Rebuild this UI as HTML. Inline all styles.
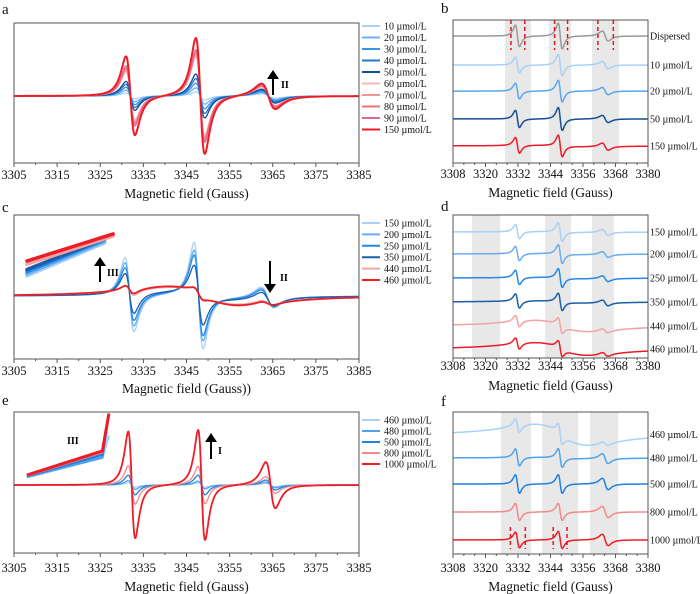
<!DOCTYPE html>
<html><head><meta charset="utf-8">
<style>
html,body{margin:0;padding:0;background:#fff;}
svg{display:block;font-family:"Liberation Serif",serif;}
</style></head>
<body>
<svg id="fig" width="700" height="594" viewBox="0 0 700 594"></svg>
<script>
// ---------- DATA ----------
const aLabels=['10 µmol/L','20 µmol/L','30 µmol/L','40 µmol/L','50 µmol/L','60 µmol/L','70 µmol/L','80 µmol/L','90 µmol/L','150 µmol/L'];
const aColors=['#a9d1f7','#6cb1f0','#3a95e8','#1f78d1','#0e4f98','#f7b8ba','#f49295','#ef7275','#e06a8e','#ee1c25'];
const aAmp1=[0.05,0.1,0.15,0.2,0.25,0.42,0.45,0.48,0.52,0.68];
const aAmp2=[0.07,0.14,0.22,0.3,0.38,0.68,0.72,0.76,0.8,1.0];
const aAmp3=[0.04,0.06,0.08,0.1,0.12,0.16,0.17,0.18,0.19,0.22];
const aCenters=[3332,3348.2,3364];
const cLabels=['150 µmol/L','200 µmol/L','250 µmol/L','350 µmol/L','440 µmol/L','460 µmol/L'];
const cColors=['#a9d1f7','#67aef0','#2388e8','#1b5fa8','#f4a3a5','#ee1c25'];
const cAmp1=[0.7,0.6,0.5,0.38,0.1,0.08];
const cAmp2=[1.0,0.85,0.75,0.55,0.1,0.08];
const cAmp3=[0.2,0.18,0.16,0.13,0.05,0.04];
const cBroad=[0.03,0.04,0.05,0.07,0.16,0.18];
const cInsetStart=[0.38,0.42,0.46,0.5,0.6,0.66];
const cInsetEnd=[1.0,1.03,1.06,1.08,1.13,1.17];
const cInsetEndG=[3326,3326,3326,3326,3328,3328];
const cCenters=[3331.8,3347.8,3363.8];
const eLabels=['460 µmol/L','480 µmol/L','500 µmol/L','800 µmol/L','1000 µmol/L'];
const eColors=['#a9d1f7','#4ea3ee','#1f80e0','#f28a8d','#ee1c25'];
const eAmp1=[0.04,0.08,0.18,0.35,0.97];
const eAmp2=[0.04,0.07,0.18,0.34,1.0];
const eAmp3=[0.03,0.05,0.09,0.15,0.42];
const eInsetStart=[0.14,0.15,0.16,0.17,0.18];
const eInsetMid=[0.5,0.5,0.55,0.6,0.62];
const eInsetTop=[0.9,1.3,1.3,1.3,1.3];
const eCenters=[3332.3,3348.5,3364.5];
const bLabels=['Dispersed','10 µmol/L','20 µmol/L','50 µmol/L','150 µmol/L'];
const bColors=['#9a9a9a','#a9d1f7','#5aa6ee','#154f96','#ee1c25'];
const bOffsets=[8.88,6.85,5.03,3.08,1.19];
const bAmp1=[0.75,0.55,0.55,0.6,0.55];
const bAmp2=[0.9,0.75,0.75,0.8,0.75];
const bAmp3=[0.35,0.25,0.25,0.25,0.25];
const bBroad=[0,0,0,0,0.05];
const bBands=[[3327.2,3336.8],[3343.4,3351.6],[3359.3,3369.3]];
const bDashes=[3329.4,3334.5,3345.5,3350.3,3361.5,3367.2];
const dLabels=['150 µmol/L','200 µmol/L','250 µmol/L','350 µmol/L','440 µmol/L','460 µmol/L'];
const dColors=['#a9d1f7','#67aef0','#2388e8','#1b5fa8','#f4a3a5','#ee1c25'];
const dOffsets=[8.81,7.27,5.59,3.92,2.24,0.63];
const dAmp1=[0.5,0.5,0.5,0.5,0.4,0.4];
const dAmp2=[0.65,0.65,0.65,0.6,0.5,0.5];
const dAmp3=[0.2,0.2,0.2,0.2,0.15,0.15];
const dBroad=[0.03,0.04,0.05,0.08,0.4,0.45];
const dBands=[[3315,3325.4],[3342,3351.6],[3359.3,3367.4]];
const fLabels=['460 µmol/L','480 µmol/L','500 µmol/L','800 µmol/L','1000 µmol/L'];
const fColors=['#a9d1f7','#4ea3ee','#1f80e0','#f28a8d','#ee1c25'];
const fOffsets=[8.4,6.76,4.93,2.96,0.99];
const fAmp1=[0.5,0.6,0.65,0.6,0.55];
const fAmp2=[0.65,0.65,0.65,0.6,0.6];
const fAmp3=[0.15,0.35,0.4,0.4,0.4];
const fBroad=[0.75,0.05,0,0,0];
const fBands=[[3325.7,3336.8],[3340.9,3354.2],[3358.6,3369]];
const fDashes=[3329.2,3334.7,3345.0,3350.1];
const smallCenters=[3331.8,3347.6,3364.2];
const bigTicks=[3305,3315,3325,3335,3345,3355,3365,3375,3385];
const smallTicks=[3308,3320,3332,3344,3356,3368,3380];

// ---------- HELPERS ----------
const NS='http://www.w3.org/2000/svg';
const fig=document.getElementById('fig');
function mk(tag,attrs,parent){const e=document.createElementNS(NS,tag);for(const k in attrs)e.setAttribute(k,attrs[k]);(parent||fig).appendChild(e);return e;}
function ld(x,c,g){const u=(x-c)/g;return (-2*u/Math.pow(1+u*u,2))/0.6495;}
function scale(d0,d1,r0,r1){return v=>r0+(v-d0)/(d1-d0)*(r1-r0);}

function axes(P,ticks,minorStep,title,tickY,titleY){
  const g=mk('g',{});
  
  
  for(let v=ticks[0];v<=ticks[ticks.length-1]+0.01;v+=minorStep){
    const x=P.sx(v);const major=ticks.some(t=>Math.abs(t-v)<0.01);
    mk('line',{x1:x,x2:x,y1:P.y1,y2:P.y1+(major?4:2),stroke:'#555','stroke-width':1},g);
  }
  ticks.forEach(t=>{
    const tx=mk('text',{x:P.sx(t),y:tickY,'text-anchor':'middle','font-size':12.5,fill:'#111'},g);
    tx.textContent=t;
    
    
  });
  const tt=mk('text',{x:(P.x0+P.x1)/2,y:titleY,'text-anchor':'middle','font-size':13.5,fill:'#111'});
  tt.textContent=title;
  
  
  const box=mk('rect',{x:P.x0,y:P.y0,width:P.x1-P.x0,height:P.y1-P.y0,fill:'none',stroke:'#555','stroke-width':1});
  
  
}
function letter(t,x,y){const e=mk('text',{x:x,y:y,'font-size':15,fill:'#111'});e.textContent=t;
  
  }
function trace(P,fn,color,w,name){
  let d='';
  for(let x=P.g0;x<=P.g1+0.001;x+=0.1){d+=(d?'L':'M')+P.sx(x).toFixed(1)+','+P.sy(fn(x)).toFixed(1);}
  const p=mk('path',{d:d,fill:'none',stroke:color,'stroke-width':w,'stroke-linejoin':'round'});
  
  
}
function legend(labels,colors,x,y0,dy){
  labels.forEach((l,i)=>{
    const y=y0+i*dy;
    const ln=mk('line',{x1:x,x2:x+18,y1:y,y2:y,stroke:colors[i],'stroke-width':2});
    
    
    const t=mk('text',{x:x+22,y:y+3.5,'font-size':10,fill:'#111'});
    t.textContent=l;
    
    
  });
}
function arrow(x,yFrom,yTo,label,lx,ly,name){
  const dir=yTo<yFrom?1:-1;
  const l=mk('line',{x1:x,x2:x,y1:yFrom,y2:yTo+dir*8,stroke:'#000','stroke-width':2});
  
  
  const h=mk('polygon',{points:`${x-6},${yTo+dir*9} ${x+6},${yTo+dir*9} ${x},${yTo}`,fill:'#000'});
  
  
  if(label){const t=mk('text',{x:lx,y:ly,'font-size':10,'font-weight':'bold',fill:'#000'});t.textContent=label;
    
    }
}

function bigPanel(name,y0,y1,vmin,vmax){
  const P={name:name,x0:14,x1:359,y0:y0,y1:y1,g0:3305,g1:3385};
  P.sx=scale(3305,3385,14,359);P.sy=scale(vmin,vmax,y1,y0);return P;
}
// a
const PA=bigPanel('panel-a',23,163,-1.155,1.259);
aLabels.forEach((l,i)=>trace(PA,x=>aAmp1[i]*ld(x,aCenters[0],1.8)+aAmp2[i]*ld(x,aCenters[1],1.8)+aAmp3[i]*ld(x,aCenters[2],2.8),aColors[i],i==9?2:1.3,'series-'+l.replace(/[^0-9]/g,'')+'-umol'));
axes(PA,bigTicks,5,'Magnetic field (Gauss)',179,198);
legend(aLabels,aColors,362,26,11.5);
arrow(273,95,70,'II',281,88,'arrow-increase-II');
letter('a',2,14);
// c
const PC=bigPanel('panel-c',215,359,-1.189,1.528);
cLabels.forEach((l,i)=>{
  trace(PC,x=>cAmp1[i]*ld(x,cCenters[0],1.8)+cAmp2[i]*ld(x,cCenters[1],1.8)+cAmp3[i]*ld(x,cCenters[2],2.6)+cBroad[i]*ld(x,3349,15),cColors[i],i==5?1.8:1.3,'series-'+l.replace(/[^0-9]/g,'')+'-umol');
  const p=mk('line',{x1:PC.sx(3308),y1:PC.sy(cInsetStart[i]),x2:PC.sx(cInsetEndG[i]),y2:PC.sy(cInsetEnd[i]),stroke:cColors[i],'stroke-width':3.5,'stroke-linecap':'round'});
  
  
});
axes(PC,bigTicks,5,'Magnetic field (Gauss))',375,393);
legend(cLabels,cColors,362,223,11.4);
arrow(100,282,257,'III',107,276,'arrow-increase-III');
arrow(270,261,293,'II',280,281,'arrow-decrease-II');
letter('c',2,212);
// e
const PE=bigPanel('panel-e',412,553,-1.236,1.327);
eLabels.forEach((l,i)=>{
  trace(PE,x=>eAmp1[i]*ld(x,eCenters[0],1.4)+eAmp2[i]*ld(x,eCenters[1],1.4)+eAmp3[i]*ld(x,eCenters[2],1.9),eColors[i],i==4?1.8:1.3,'series-'+l.replace(/[^0-9]/g,'')+'-umol');
  const pts=[[3308,eInsetStart[i]],[3325.5,eInsetMid[i]],[3327,eInsetTop[i]]].map(p=>PE.sx(p[0]).toFixed(1)+','+PE.sy(p[1]).toFixed(1)).join(' ');
  const pl=mk('polyline',{points:pts,fill:'none',stroke:eColors[i],'stroke-width':i==4?3:2.5,'stroke-linejoin':'round'});
  
  
});
axes(PE,bigTicks,5,'Magnetic field (Gauss)',572,591);
legend(eLabels,eColors,362,420,11);
arrow(211,459,433,'I',218,454,'arrow-increase-I');
{const t=mk('text',{x:67,y:444,'font-size':10,'font-weight':'bold',fill:'#000'});t.textContent='III';

}
letter('e',2,405);

function smallPanel(name,y0,y1){
  const P={name:name,x0:453,x1:648,y0:y0,y1:y1,g0:3308,g1:3380};
  P.sx=scale(3308,3380,453,648);P.sy=scale(0,10,y1,y0);return P;
}
function drawSmall(P,bands,labels,colors,offs,a1,a2,a3,br,dashes,dashY,tickY,titleY){
  bands.forEach(b=>{const r=mk('rect',{x:P.sx(b[0]),y:P.y0,width:P.sx(b[1])-P.sx(b[0]),height:P.y1-P.y0,fill:'#e8e8e8'});
    
    });
  labels.forEach((l,i)=>{
    trace(P,x=>offs[i]+a1[i]*ld(x,smallCenters[0],1.3)+a2[i]*ld(x,smallCenters[1],1.3)+a3[i]*ld(x,smallCenters[2],1.9)+br[i]*ld(x,3348,18),colors[i],1.5,'trace-'+l.replace(/[^A-Za-z0-9]/g,''));
    const t=mk('text',{x:650,y:P.sy(offs[i])+3.5,'font-size':10,fill:'#111'});
    t.textContent=l;
    
    
  });
  if(dashes) dashes.forEach(g=>{const l=mk('line',{x1:P.sx(g),x2:P.sx(g),y1:P.sy(dashY[0]),y2:P.sy(dashY[1]),stroke:'#e8141c','stroke-width':1.5,'stroke-dasharray':'4,3'});
    
    });
  axes(P,smallTicks,4,'Magnetic field (Gauss)',tickY,titleY);
}
const PB=smallPanel('panel-b',20,163);
drawSmall(PB,bBands,bLabels,bColors,bOffsets,bAmp1,bAmp2,bAmp3,bBroad,bDashes,[10,7.9],178,197);
letter('b',441,13);
const PD=smallPanel('panel-d',215,358);
drawSmall(PD,dBands,dLabels,dColors,dOffsets,dAmp1,dAmp2,dAmp3,dBroad,null,null,370,390);
letter('d',441,211);
const PF=smallPanel('panel-f',412,554);
drawSmall(PF,fBands,fLabels,fColors,fOffsets,fAmp1,fAmp2,fAmp3,fBroad,fDashes,[1.9,0.35],572,591);
letter('f',441,406);
</script>
</body></html>
